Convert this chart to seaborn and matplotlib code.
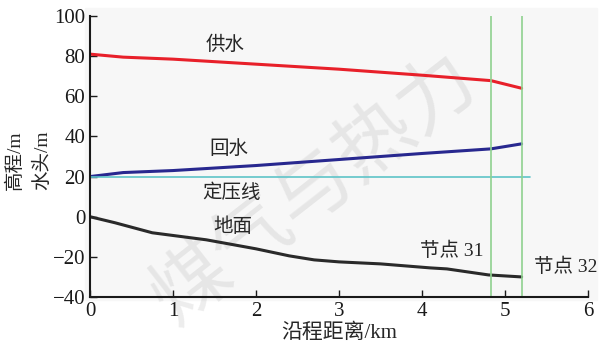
import matplotlib
matplotlib.use("Agg")
import matplotlib.pyplot as plt
import pandas as pd
import seaborn as sns

# 供水
supply_x = [0, 0.4, 1.0, 2.0, 3.0, 4.0, 4.83, 5.2]
supply_y = [81, 79.5, 78.5, 76, 73.5, 70.5, 67.8, 64]
# 回水
return_x = [0, 0.4, 1.0, 2.0, 3.0, 4.0, 4.83, 5.2]
return_y = [20, 22, 23, 25.5, 28.5, 31.5, 33.8, 36.3]
# 定压线
static_x = [0, 5.3]
static_y = [20, 20]
# 地面
ground_x = [0, 0.3, 0.75, 1.4, 2.0, 2.4, 2.7, 3.0, 3.5, 4.1, 4.3, 4.8, 5.2]
ground_y = [0, -3, -8, -11.5, -16, -19.5, -21.5, -22.5, -23.5, -25.5, -26, -29, -30]
node_x = [4.83, 5.2]
node_labels = ["节点 31", "节点 32"]

xticks = [0, 1, 2, 3, 4, 5, 6]
yticks = [-40, -20, 0, 20, 40, 60, 80, 100]

FONTS = ["Liberation Serif", "Noto Sans CJK SC", "DejaVu Sans"]
CJK = ["Noto Sans CJK SC", "DejaVu Sans"]

sns.set_style("ticks")
plt.rcParams["font.family"] = FONTS

fig = plt.figure(figsize=(6.06, 3.59), dpi=100)
bg = plt.Rectangle((85 / 606, 1 - 300 / 359), 512 / 606, 292 / 359,
                   transform=fig.transFigure, color="#f7f7f7", zorder=-10)
fig.patches.append(bg)
ax = fig.add_axes([90 / 606, 1 - 297 / 359, 498 / 606, 281 / 359])
ax.set_facecolor("none")

def df(x, y):
    return pd.DataFrame({"x": x, "y": y})

sns.lineplot(data=df(supply_x, supply_y), x="x", y="y", color="#e8202a", lw=2.2, ax=ax)
sns.lineplot(data=df(return_x, return_y), x="x", y="y", color="#28288f", lw=2.2, ax=ax)
sns.lineplot(data=df(static_x, static_y), x="x", y="y", color="#5ec4c8", lw=1.2, ax=ax)
sns.lineplot(data=df(ground_x, ground_y), x="x", y="y", color="#2a2a2a", lw=2.2, ax=ax)
for nx in node_x:
    ax.axvline(nx, color="#8fd18f", lw=1.2)

ax.text(1.63, 86, "供水", fontsize=14, family=CJK, ha="center", va="center")
ax.text(1.67, 34, "回水", fontsize=14, family=CJK, ha="center", va="center")
ax.text(1.71, 12, "定压线", fontsize=14, family=CJK, ha="center", va="center")
ax.text(1.72, -5, "地面", fontsize=14, family=CJK, ha="center", va="center")
ax.text(4.36, -17, node_labels[0], fontsize=14, family=FONTS, ha="center", va="center")
ax.text(5.73, -25, node_labels[1], fontsize=14, family=FONTS, ha="center", va="center")

# watermark
fig.text(315 / 606, 1 - 190 / 359, "煤气与热力", fontsize=56, family=CJK,
         color="#9a9a9a", alpha=0.18, rotation=38, ha="center", va="center", zorder=-5)

ax.set_xlim(0, 6)
ax.set_ylim(-40, 100)
ax.set_xticks(xticks)
ax.set_yticks(yticks)
ax.set_yticklabels(["\u221240", "\u221220", "0", "20", "40", "60", "80", "100"])
ax.tick_params(direction="in", length=5, width=1, labelsize=15, colors="#1a1a1a")
for s in ["left", "bottom"]:
    ax.spines[s].set_linewidth(1.5)
    ax.spines[s].set_color("#1a1a1a")
sns.despine(ax=ax)
ax.set_xlabel("沿程距离/km", fontsize=15, family=FONTS, labelpad=2)
ax.set_ylabel("")
fig.text(15 / 606, 1 - 160 / 359, "高程/m", rotation=90, fontsize=14, family=FONTS,
         ha="center", va="center")
fig.text(42 / 606, 1 - 160 / 359, "水头/m", rotation=90, fontsize=14, family=FONTS,
         ha="center", va="center")

fig.savefig("out.png", dpi=100)
